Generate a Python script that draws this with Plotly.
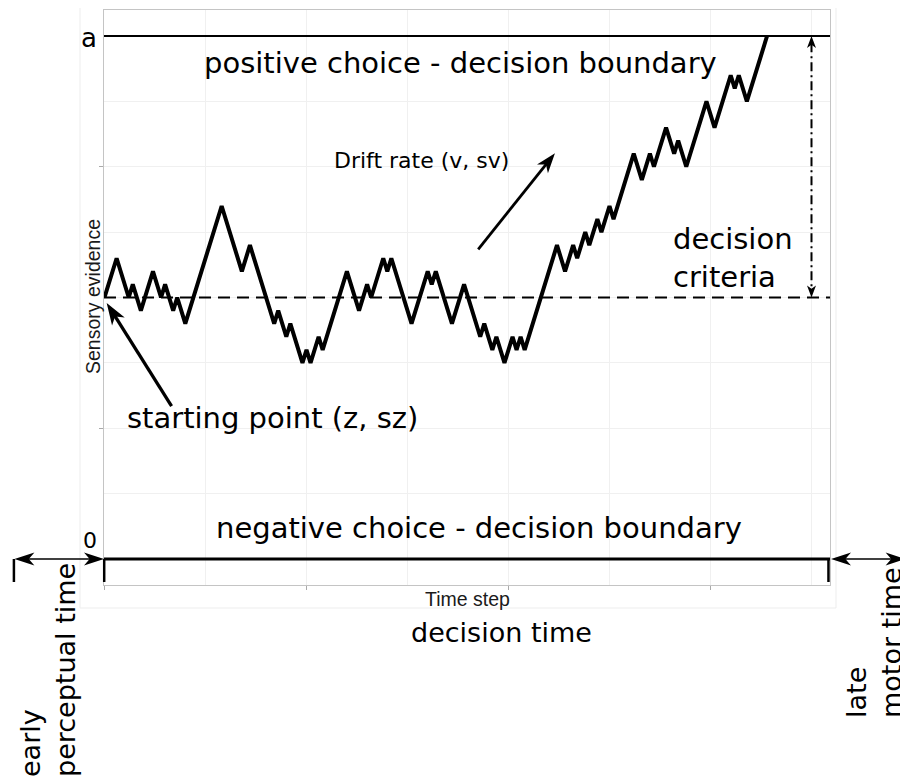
import math
import plotly.graph_objects as go

# ---- data: turning points of the random walk (time step, evidence level) ----
path_t = [0, 3, 6, 7, 9, 12, 14, 15, 17, 18, 20, 29, 34, 36, 42, 43, 45, 46, 49, 50,
          51, 53, 54, 60, 63, 65, 66, 69, 70, 71, 76, 80, 81, 82, 86, 89, 93, 94, 96, 97,
          99, 101, 102, 103, 104, 112, 114, 116, 117, 119, 120, 122, 123, 125, 126, 131,
          133, 135, 136, 139, 141, 142, 144, 149, 151, 155, 156, 157, 159, 164]
path_y = [20, 23, 20, 21, 19, 22, 20, 21, 19, 20, 18, 27, 22, 24, 18, 19, 17, 18, 15, 16,
          15, 17, 16, 22, 19, 21, 20, 23, 22, 23, 18, 22, 21, 22, 18, 21, 17, 18, 16, 17,
          15, 17, 16, 17, 16, 24, 22, 24, 23, 25, 24, 26, 25, 27, 26, 31,
          29, 31, 30, 33, 31, 32, 30, 35, 33, 37, 36, 37, 35, 40]

boundary_a = 40          # upper decision boundary "a"
boundary_0 = 0           # lower decision boundary "0"
start_z = 20             # starting point z
early_start = -22.3      # start of early perceptual time (time steps)
late_end = 198.3         # end of late motor time (time steps)
criteria_t = 175         # position of decision-criteria arrow
x_tickvals = [0, 50, 100, 150]
y_tickvals = [10, 30]
x_range = [-0.124, 179.58]
y_range = [-1.99, 41.99]

# ---- geometry helpers (page pixels; the page body has an 8px margin) ----
OFF = 8
W, H = 900, 770
M = dict(l=96, r=78, t=2, b=193)
PW = W - M['l'] - M['r']
PH = H - M['t'] - M['b']
L0 = M['l'] + OFF          # plot-area left edge in page pixels
T0 = M['t'] + OFF          # plot-area top edge in page pixels


def px_of(t):
    return L0 + (t - x_range[0]) / (x_range[1] - x_range[0]) * PW


def py_of(y):
    return T0 + PH - (y - y_range[0]) / (y_range[1] - y_range[0]) * PH


def fx(px):
    return (px - L0) / PW


def fy(py):
    return (T0 + PH - py) / PH


shapes = []


def head(px, py, ux, uy, hl, hw):
    nx, ny = -uy, ux
    bx, by = px - hl * ux, py - hl * uy
    pts = [(px, py),
           (bx + nx * hw / 2, by + ny * hw / 2),
           (px - 0.72 * hl * ux, py - 0.72 * hl * uy),
           (bx - nx * hw / 2, by - ny * hw / 2)]
    path = 'M ' + ' L '.join(f'{fx(a):.5f},{fy(b):.5f}' for a, b in pts) + ' Z'
    shapes.append(dict(type='path', xref='paper', yref='paper', path=path,
                       fillcolor='black', line=dict(width=0), layer='above'))


def arrow(tail, tip, width, hl, hw, both=False, dash='solid'):
    x0, y0 = tail
    x1, y1 = tip
    d = math.hypot(x1 - x0, y1 - y0)
    ux, uy = (x1 - x0) / d, (y1 - y0) / d
    s0 = (x0, y0)
    if both:
        head(x0, y0, -ux, -uy, hl, hw)
        s0 = (x0 + 0.6 * hl * ux, y0 + 0.6 * hl * uy)
    head(x1, y1, ux, uy, hl, hw)
    s1 = (x1 - 0.6 * hl * ux, y1 - 0.6 * hl * uy)
    shapes.append(dict(type='line', xref='paper', yref='paper',
                       x0=fx(s0[0]), y0=fy(s0[1]), x1=fx(s1[0]), y1=fy(s1[1]),
                       line=dict(color='black', width=width, dash=dash), layer='above'))


def vline(px, py0, py1, width=2.5, color='black'):
    shapes.append(dict(type='line', xref='paper', yref='paper',
                       x0=fx(px), x1=fx(px), y0=fy(py0), y1=fy(py1),
                       line=dict(color=color, width=width), layer='above'))


# faint outer frame
shapes.append(dict(type='rect', xref='paper', yref='paper', x0=fx(80), x1=fx(836),
                   y0=fy(608), y1=fy(5), line=dict(color='#ededed', width=1), layer='below'))

# boundaries and starting-point line
shapes.append(dict(type='line', xref='paper', yref='y', x0=0, x1=1, y0=boundary_a, y1=boundary_a,
                   line=dict(color='black', width=2), layer='above'))
shapes.append(dict(type='line', xref='paper', yref='y', x0=0, x1=1, y0=boundary_0, y1=boundary_0,
                   line=dict(color='black', width=3), layer='above'))
shapes.append(dict(type='line', xref='paper', yref='y', x0=0, x1=1, y0=start_z, y1=start_z,
                   line=dict(color='black', width=2, dash='12px,7px'), layer='above'))

# non-decision time markers
y0px = py_of(boundary_0)
vline(px_of(early_start) - 0.5, y0px, y0px + 23)
vline(px_of(0) - 0.3, y0px, y0px + 23)
vline(px_of(179.2), y0px, y0px + 23)
arrow((px_of(early_start), y0px), (px_of(0) - 0.5, y0px), 1.5, 20, 13, both=True)
arrow((px_of(x_range[1]) + 1, y0px), (px_of(late_end), y0px), 1.5, 20, 13, both=True)

# decision criteria (dash-dot double arrow)
arrow((px_of(criteria_t), py_of(boundary_a)), (px_of(criteria_t), py_of(start_z)),
      2, 12, 9, both=True, dash='9px,4px,2px,4px')

# drift-rate arrow and starting-point arrow
arrow((px_of(92.5), py_of(23.69)), (px_of(111.5), py_of(31.03)), 2.8, 20, 14)
arrow((px_of(16.6), py_of(11.7)), (px_of(0.54), py_of(19.58)), 3.3, 22, 15)

# ---- figure ----
fig = go.Figure()
fig.add_trace(go.Scatter(x=path_t, y=path_y, mode='lines',
                         line=dict(color='black', width=4), hoverinfo='skip',
                         showlegend=False))

BIG = dict(family='DejaVu Sans', size=29, color='black')
ann = []


def text(x, y, s, font, xref='x', yref='y', xanchor='center', yanchor='middle',
         angle=0, align='center'):
    ann.append(dict(x=x, y=y, xref=xref, yref=yref, text=s, showarrow=False, font=font,
                    xanchor=xanchor, yanchor=yanchor, textangle=angle, align=align))


text(88.0, 37.9, 'positive choice - decision boundary', BIG)
text(92.7, 2.4, 'negative choice - decision boundary', BIG)
text(41.5, 10.8, 'starting point (z, sz)', BIG)
text(78.4, 30.5, 'Drift rate (v, sv)', dict(family='DejaVu Sans', size=22, color='black'))
text(140.3, 23.0, 'decision<br>criteria', BIG, xanchor='left', align='left')

text(fx(89), fy(38), 'a', dict(family='DejaVu Sans', size=26, color='black'), 'paper', 'paper')
text(fx(90), fy(540), '0', dict(family='DejaVu Sans', size=22, color='black'), 'paper', 'paper')
text(fx(468), fy(599), 'Time step', dict(family='Liberation Sans', size=19.5, color='#1a1a1a'),
     'paper', 'paper')
text(fx(93), fy(297), 'Sensory evidence', dict(family='Liberation Sans', size=19.5, color='#1a1a1a'),
     'paper', 'paper', angle=-90)
text(fx(501), fy(632), 'decision time', dict(family='DejaVu Sans', size=27, color='black'),
     'paper', 'paper')
text(fx(48), fy(670), 'early<br>perceptual time', dict(family='DejaVu Sans', size=27, color='black'),
     'paper', 'paper', angle=-90, align='left')
text(fx(874), fy(643), 'late<br>motor time', dict(family='DejaVu Sans', size=27, color='black'),
     'paper', 'paper', angle=-90, align='left')

fig.update_layout(
    width=W, height=H, margin=M,
    paper_bgcolor='white', plot_bgcolor='white',
    showlegend=False, shapes=shapes, annotations=ann,
    xaxis=dict(range=x_range, tickvals=x_tickvals, showticklabels=False,
               ticks='outside', ticklen=4, tickcolor='#aaaaaa', tickwidth=1,
               showgrid=True, gridcolor='#f0f0f0', gridwidth=1, zeroline=False,
               showline=True, mirror=True, linecolor='#c4c4c4', linewidth=1,
               minor=dict(tick0=0, dtick=25, showgrid=True, gridcolor='#f0f0f0', ticks='')),
    yaxis=dict(range=y_range, tickvals=y_tickvals, showticklabels=False,
               ticks='outside', ticklen=4, tickcolor='#aaaaaa', tickwidth=1,
               showgrid=True, gridcolor='#f0f0f0', gridwidth=1, zeroline=False,
               showline=True, mirror=True, linecolor='#c4c4c4', linewidth=1,
               minor=dict(tick0=0, dtick=5, showgrid=True, gridcolor='#f0f0f0', ticks='')),
)

fig.write_html('out.html')
